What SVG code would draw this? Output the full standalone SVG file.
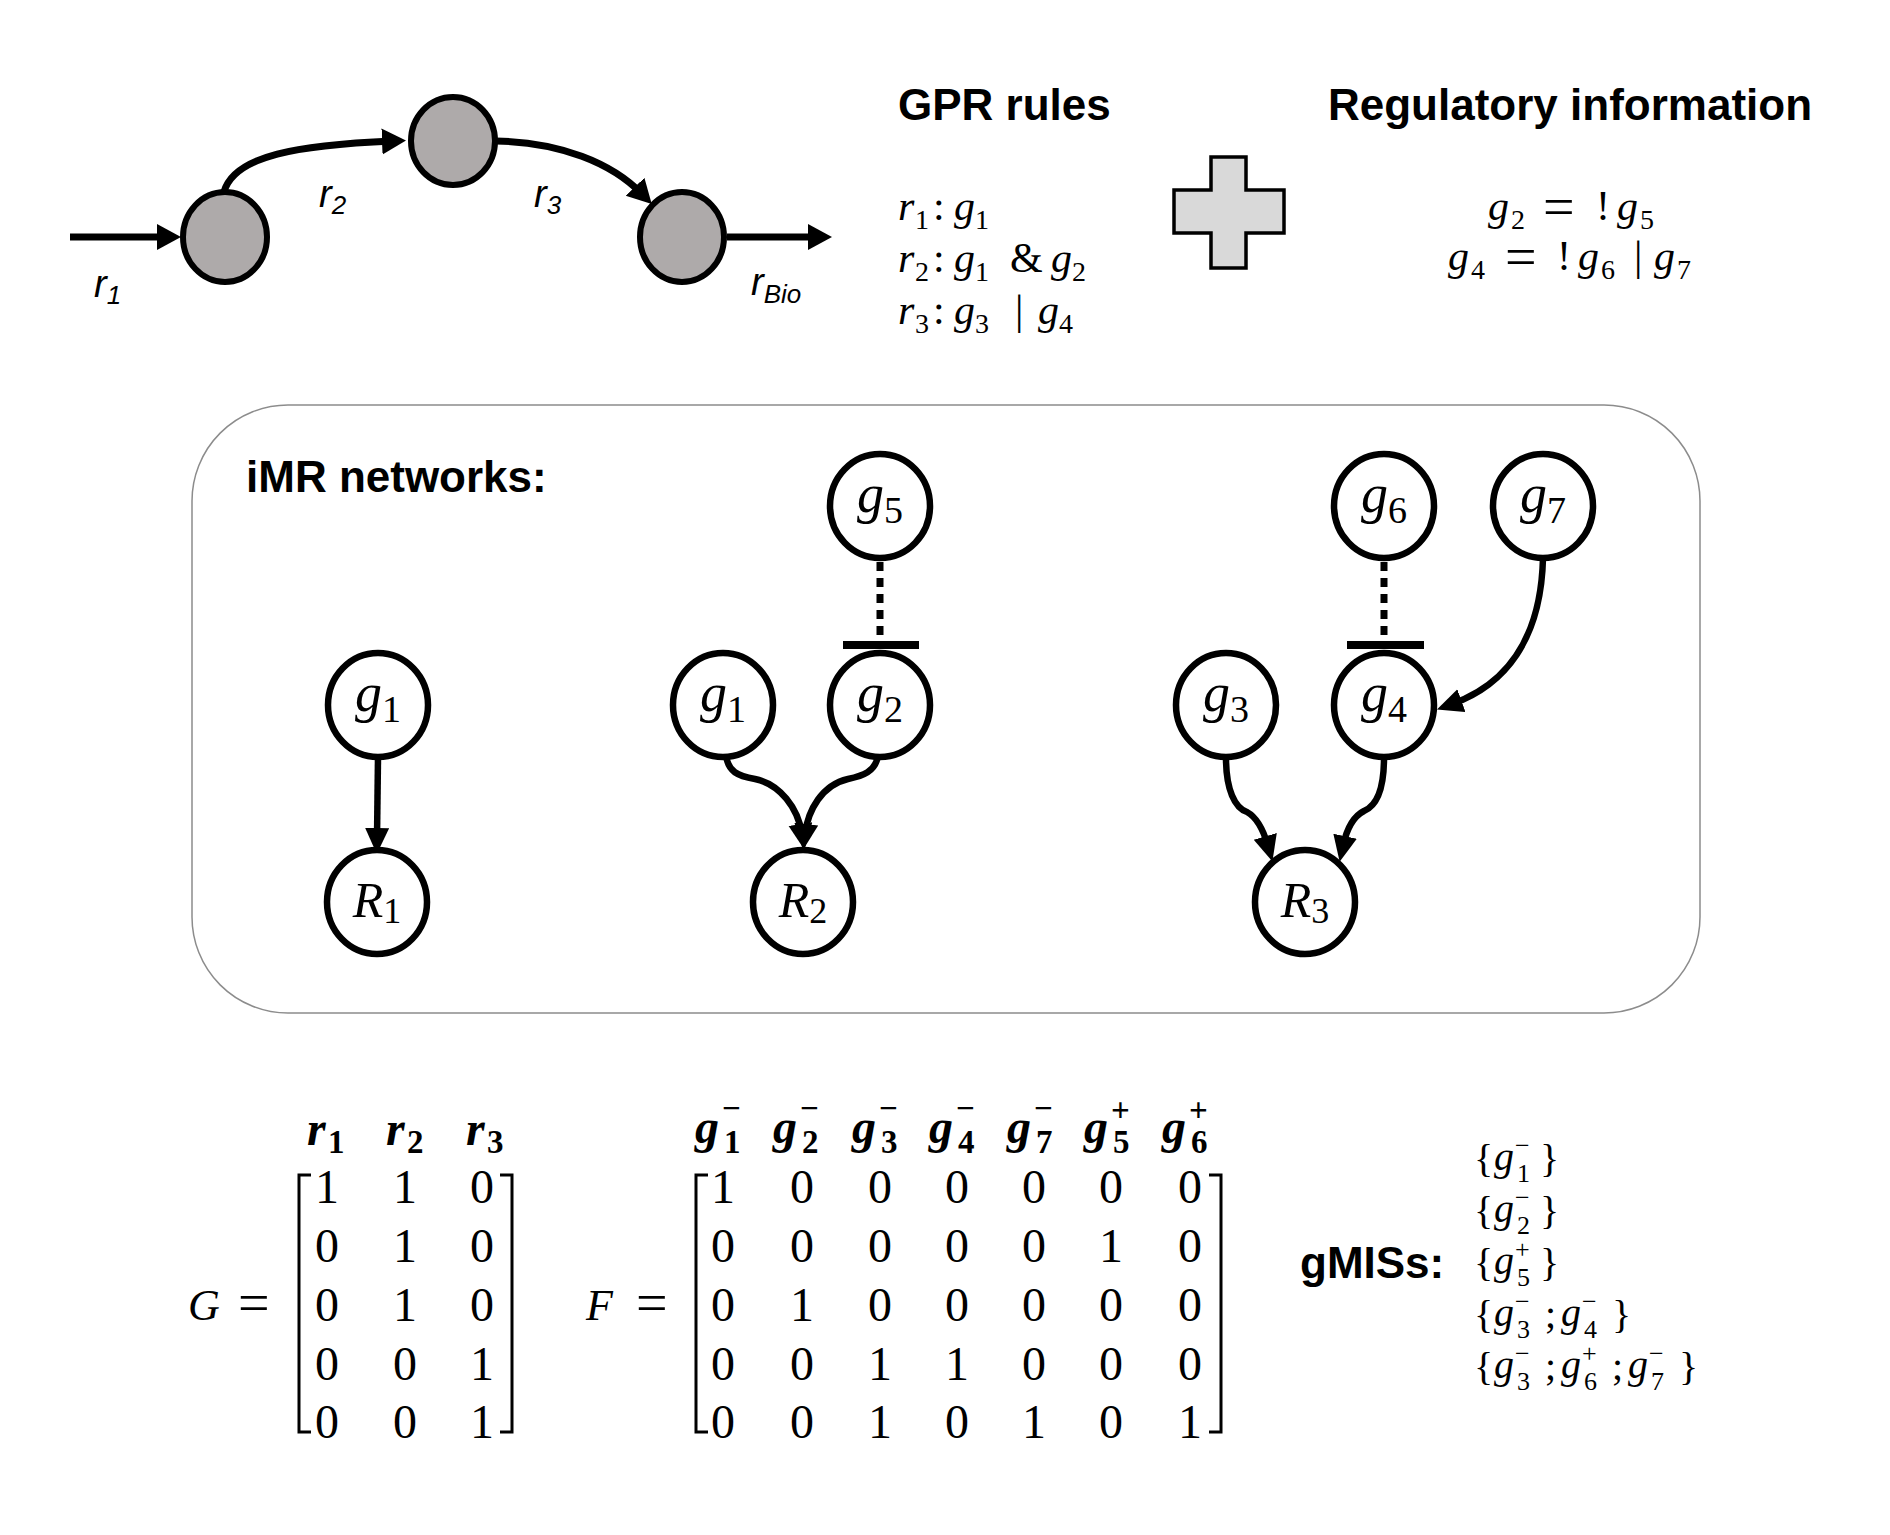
<svg xmlns="http://www.w3.org/2000/svg" width="1890" height="1535" viewBox="0 0 1890 1535">
<style>
.h{font-family:"Liberation Sans",Arial,sans-serif;font-weight:bold;font-size:44px;fill:#000}
.lab{font-family:"Liberation Sans",Arial,sans-serif;font-style:italic;fill:#000}
.m{font-family:"Liberation Serif","Times New Roman",serif;fill:#000}
.i{font-style:italic}
.bi{font-style:italic;font-weight:bold}
.b{font-weight:bold}
.s{font-size:28px}
.met{fill:#aeaaaa;stroke:#000;stroke-width:6}
.nd{fill:#fff;stroke:#000;stroke-width:6.5}
.e{fill:none;stroke:#000;stroke-width:6.5}
.et{fill:none;stroke:#000;stroke-width:7}
.dot{fill:none;stroke:#000;stroke-width:7;stroke-dasharray:9 7}
.bar{stroke:#000;stroke-width:8}
.br{fill:none;stroke:#000;stroke-width:3}
</style>
<defs>
<marker id="ahT" markerUnits="userSpaceOnUse" markerWidth="30" markerHeight="30" refX="10" refY="13" orient="auto"><path d="M0,0 L24,13 L0,26 z" fill="#000"/></marker>
<marker id="ahN" markerUnits="userSpaceOnUse" markerWidth="30" markerHeight="30" refX="10" refY="12" orient="auto"><path d="M0,0 L26,12 L0,24 z" fill="#000"/></marker>
</defs>
<rect width="1890" height="1535" fill="#fff"/>

<!-- Top pathway -->
<g id="connectors-top">
<path class="et" d="M70,237 L167,237" marker-end="url(#ahT)"/>
<path class="et" d="M224,192 C234,155 300,145 392,141" marker-end="url(#ahT)"/>
<path class="et" d="M496,141 C560,142 612,163 642,194" marker-end="url(#ahT)"/>
<path class="et" d="M727,237 L818,237" marker-end="url(#ahT)"/>
</g>
<g id="met1"><ellipse class="met" cx="225" cy="237" rx="42" ry="45"/></g>
<g id="met2"><ellipse class="met" cx="453" cy="141" rx="42" ry="44"/></g>
<g id="met3"><ellipse class="met" cx="682" cy="237" rx="42" ry="45"/></g>
<g id="top-labels">
<text class="lab" x="94" y="297" font-size="38">r<tspan font-size="26" dy="7">1</tspan></text>
<text class="lab" x="319" y="207" font-size="38">r<tspan font-size="26" dy="7">2</tspan></text>
<text class="lab" x="534" y="207" font-size="38">r<tspan font-size="26" dy="7">3</tspan></text>
<text class="lab" x="751" y="295" font-size="38">r<tspan font-size="26" dy="8">Bio</tspan></text>
</g>

<!-- GPR rules -->
<g id="gpr">
<text class="h" x="898" y="120">GPR rules</text>
<text class="m" font-size="42"><tspan class="i" x="898" y="220">r</tspan><tspan class="s" x="915" y="229">1</tspan><tspan x="933" y="220">:</tspan><tspan class="i" x="954" y="220">g</tspan><tspan class="s" x="975" y="229">1</tspan></text>
<text class="m" font-size="42"><tspan class="i" x="898" y="272">r</tspan><tspan class="s" x="915" y="281">2</tspan><tspan x="933" y="272">:</tspan><tspan class="i" x="954" y="272">g</tspan><tspan class="s" x="975" y="281">1</tspan><tspan x="1010" y="272">&amp;</tspan><tspan class="i" x="1051" y="272">g</tspan><tspan class="s" x="1072" y="281">2</tspan></text>
<text class="m" font-size="42"><tspan class="i" x="898" y="324">r</tspan><tspan class="s" x="915" y="333">3</tspan><tspan x="933" y="324">:</tspan><tspan class="i" x="954" y="324">g</tspan><tspan class="s" x="975" y="333">3</tspan><tspan x="1015" y="324">|</tspan><tspan class="i" x="1038" y="324">g</tspan><tspan class="s" x="1059" y="333">4</tspan></text>
</g>

<!-- Plus -->
<g id="plus">
<path d="M1211,157 L1246,157 L1246,190 L1284,190 L1284,233 L1246,233 L1246,268 L1211,268 L1211,233 L1174,233 L1174,190 L1211,190 Z" fill="#d9d9d9" stroke="#000" stroke-width="3.5"/>
</g>

<!-- Regulatory information -->
<g id="reg">
<text class="h" x="1328" y="120">Regulatory information</text>
<text class="m" font-size="42"><tspan class="i" x="1488" y="220">g</tspan><tspan class="s" x="1511" y="229">2</tspan><tspan font-size="56" x="1543" y="226">=</tspan><tspan x="1596" y="220">!</tspan><tspan class="i" x="1617" y="220">g</tspan><tspan class="s" x="1640" y="229">5</tspan></text>
<text class="m" font-size="42"><tspan class="i" x="1448" y="270">g</tspan><tspan class="s" x="1471" y="279">4</tspan><tspan font-size="56" x="1505" y="276">=</tspan><tspan x="1557" y="270">!</tspan><tspan class="i" x="1578" y="270">g</tspan><tspan class="s" x="1601" y="279">6</tspan><tspan x="1634" y="270">|</tspan><tspan class="i" x="1654" y="270">g</tspan><tspan class="s" x="1677" y="279">7</tspan></text>
</g>

<!-- iMR box -->
<g id="imr-box">
<rect x="192" y="405" width="1508" height="608" rx="96" ry="96" fill="none" stroke="#8c8c8c" stroke-width="1.5"/>
<text class="h" x="246" y="492">iMR networks:</text>
</g>

<g id="connectors">
<path class="e" d="M378,757 L377,838" marker-end="url(#ahN)"/>
<path class="e" d="M726,755 C728,772 738,776 755,779 C780,784 798,808 802,834" marker-end="url(#ahN)"/>
<path class="e" d="M878,755 C876,772 862,776 848,779 C822,785 808,810 805,834" marker-end="url(#ahN)"/>
<path class="dot" d="M880,562 L880,641"/>
<line class="bar" x1="843" y1="645" x2="919" y2="645"/>
<path class="dot" d="M1384,562 L1384,641"/>
<line class="bar" x1="1347" y1="645" x2="1424" y2="645"/>
<path class="e" d="M1543,558 C1541,640 1505,685 1452,704" marker-end="url(#ahN)"/>
<path class="e" d="M1226,758 C1226,790 1235,808 1247,812 C1258,818 1264,832 1268,846" marker-end="url(#ahN)"/>
<path class="e" d="M1384,758 C1384,790 1376,806 1364,811 C1352,817 1346,832 1343,846" marker-end="url(#ahN)"/>
</g>

<g id="n-g1a"><ellipse class="nd" cx="378" cy="705" rx="50" ry="52"/><text class="m" x="378" y="711" font-size="54" text-anchor="middle"><tspan class="i">g</tspan><tspan font-size="38" dy="11">1</tspan></text></g>
<g id="n-R1"><ellipse class="nd" cx="377" cy="902" rx="50" ry="52"/><text class="m" x="377" y="917" font-size="50" text-anchor="middle"><tspan class="i">R</tspan><tspan font-size="36" dy="6">1</tspan></text></g>
<g id="n-g5"><ellipse class="nd" cx="880" cy="506" rx="50" ry="52"/><text class="m" x="880" y="512" font-size="54" text-anchor="middle"><tspan class="i">g</tspan><tspan font-size="38" dy="11">5</tspan></text></g>
<g id="n-g1b"><ellipse class="nd" cx="723" cy="705" rx="50" ry="52"/><text class="m" x="723" y="711" font-size="54" text-anchor="middle"><tspan class="i">g</tspan><tspan font-size="38" dy="11">1</tspan></text></g>
<g id="n-g2"><ellipse class="nd" cx="880" cy="705" rx="50" ry="52"/><text class="m" x="880" y="711" font-size="54" text-anchor="middle"><tspan class="i">g</tspan><tspan font-size="38" dy="11">2</tspan></text></g>
<g id="n-R2"><ellipse class="nd" cx="803" cy="902" rx="50" ry="52"/><text class="m" x="803" y="917" font-size="50" text-anchor="middle"><tspan class="i">R</tspan><tspan font-size="36" dy="6">2</tspan></text></g>
<g id="n-g6"><ellipse class="nd" cx="1384" cy="506" rx="50" ry="52"/><text class="m" x="1384" y="512" font-size="54" text-anchor="middle"><tspan class="i">g</tspan><tspan font-size="38" dy="11">6</tspan></text></g>
<g id="n-g7"><ellipse class="nd" cx="1543" cy="506" rx="50" ry="52"/><text class="m" x="1543" y="512" font-size="54" text-anchor="middle"><tspan class="i">g</tspan><tspan font-size="38" dy="11">7</tspan></text></g>
<g id="n-g3"><ellipse class="nd" cx="1226" cy="705" rx="50" ry="52"/><text class="m" x="1226" y="711" font-size="54" text-anchor="middle"><tspan class="i">g</tspan><tspan font-size="38" dy="11">3</tspan></text></g>
<g id="n-g4"><ellipse class="nd" cx="1384" cy="705" rx="50" ry="52"/><text class="m" x="1384" y="711" font-size="54" text-anchor="middle"><tspan class="i">g</tspan><tspan font-size="38" dy="11">4</tspan></text></g>
<g id="n-R3"><ellipse class="nd" cx="1305" cy="902" rx="50" ry="52"/><text class="m" x="1305" y="917" font-size="50" text-anchor="middle"><tspan class="i">R</tspan><tspan font-size="36" dy="6">3</tspan></text></g>

<!-- G matrix -->
<g id="matrix-G">
<text class="m" font-size="48"><tspan class="bi" x="307" y="1145">r</tspan><tspan class="b" font-size="33" x="328" y="1153">1</tspan><tspan class="bi" x="386" y="1145">r</tspan><tspan class="b" font-size="33" x="407" y="1153">2</tspan><tspan class="bi" x="466" y="1145">r</tspan><tspan class="b" font-size="33" x="487" y="1153">3</tspan></text>
<text class="m" font-size="44"><tspan class="i" x="188" y="1320">G</tspan><tspan font-size="56" x="238" y="1322">=</tspan></text>
<path class="br" d="M311,1175 L299,1175 L299,1432 L311,1432"/>
<path class="br" d="M500,1175 L512,1175 L512,1432 L500,1432"/>
<g class="m" font-size="48" text-anchor="middle">
<text x="327 405 482" y="1203">110</text>
<text x="327 405 482" y="1262">010</text>
<text x="327 405 482" y="1321">010</text>
<text x="327 405 482" y="1380">001</text>
<text x="327 405 482" y="1438">001</text>
</g>
</g>

<!-- F matrix -->
<g id="matrix-F">
<text class="m" font-size="48"><tspan class="bi" x="695" y="1143">g</tspan><tspan class="b" font-size="33" x="722" y="1119">−</tspan><tspan class="b" font-size="33" x="724" y="1153">1</tspan><tspan class="bi" x="773" y="1143">g</tspan><tspan class="b" font-size="33" x="800" y="1119">−</tspan><tspan class="b" font-size="33" x="802" y="1153">2</tspan><tspan class="bi" x="852" y="1143">g</tspan><tspan class="b" font-size="33" x="879" y="1119">−</tspan><tspan class="b" font-size="33" x="881" y="1153">3</tspan><tspan class="bi" x="929" y="1143">g</tspan><tspan class="b" font-size="33" x="956" y="1119">−</tspan><tspan class="b" font-size="33" x="958" y="1153">4</tspan><tspan class="bi" x="1007" y="1143">g</tspan><tspan class="b" font-size="33" x="1034" y="1119">−</tspan><tspan class="b" font-size="33" x="1036" y="1153">7</tspan><tspan class="bi" x="1084" y="1143">g</tspan><tspan class="b" font-size="33" x="1111" y="1121">+</tspan><tspan class="b" font-size="33" x="1113" y="1153">5</tspan><tspan class="bi" x="1162" y="1143">g</tspan><tspan class="b" font-size="33" x="1189" y="1121">+</tspan><tspan class="b" font-size="33" x="1191" y="1153">6</tspan></text>
<text class="m" font-size="44"><tspan class="i" x="586" y="1320">F</tspan><tspan font-size="56" x="636" y="1322">=</tspan></text>
<path class="br" d="M708,1175 L696,1175 L696,1432 L708,1432"/>
<path class="br" d="M1209,1175 L1221,1175 L1221,1432 L1209,1432"/>
<g class="m" font-size="48" text-anchor="middle">
<text x="723 802 880 957 1034 1111 1190" y="1203">1000000</text>
<text x="723 802 880 957 1034 1111 1190" y="1262">0000010</text>
<text x="723 802 880 957 1034 1111 1190" y="1321">0100000</text>
<text x="723 802 880 957 1034 1111 1190" y="1380">0011000</text>
<text x="723 802 880 957 1034 1111 1190" y="1438">0010101</text>
</g>
</g>

<!-- gMISs -->
<g id="gmiss">
<text class="h" x="1300" y="1278" font-size="43">gMISs:</text>
<text class="m" font-size="40"><tspan x="1474" y="1172">{</tspan><tspan class="i" x="1494" y="1170">g</tspan><tspan font-size="26" x="1515" y="1154">−</tspan><tspan font-size="26" x="1517" y="1182">1</tspan><tspan x="1540" y="1172">}</tspan></text>
<text class="m" font-size="40"><tspan x="1474" y="1224">{</tspan><tspan class="i" x="1494" y="1222">g</tspan><tspan font-size="26" x="1515" y="1206">−</tspan><tspan font-size="26" x="1517" y="1234">2</tspan><tspan x="1540" y="1224">}</tspan></text>
<text class="m" font-size="40"><tspan x="1474" y="1276">{</tspan><tspan class="i" x="1494" y="1274">g</tspan><tspan font-size="26" x="1515" y="1258">+</tspan><tspan font-size="26" x="1517" y="1286">5</tspan><tspan x="1540" y="1276">}</tspan></text>
<text class="m" font-size="40"><tspan x="1474" y="1328">{</tspan><tspan class="i" x="1494" y="1326">g</tspan><tspan font-size="26" x="1515" y="1310">−</tspan><tspan font-size="26" x="1517" y="1338">3</tspan><tspan x="1545" y="1328">;</tspan><tspan class="i" x="1561" y="1326">g</tspan><tspan font-size="26" x="1582" y="1310">−</tspan><tspan font-size="26" x="1584" y="1338">4</tspan><tspan x="1612" y="1328">}</tspan></text>
<text class="m" font-size="40"><tspan x="1474" y="1380">{</tspan><tspan class="i" x="1494" y="1378">g</tspan><tspan font-size="26" x="1515" y="1362">−</tspan><tspan font-size="26" x="1517" y="1390">3</tspan><tspan x="1545" y="1380">;</tspan><tspan class="i" x="1561" y="1378">g</tspan><tspan font-size="26" x="1582" y="1362">+</tspan><tspan font-size="26" x="1584" y="1390">6</tspan><tspan x="1612" y="1380">;</tspan><tspan class="i" x="1628" y="1378">g</tspan><tspan font-size="26" x="1649" y="1362">−</tspan><tspan font-size="26" x="1651" y="1390">7</tspan><tspan x="1679" y="1380">}</tspan></text>
</g>
</svg>
